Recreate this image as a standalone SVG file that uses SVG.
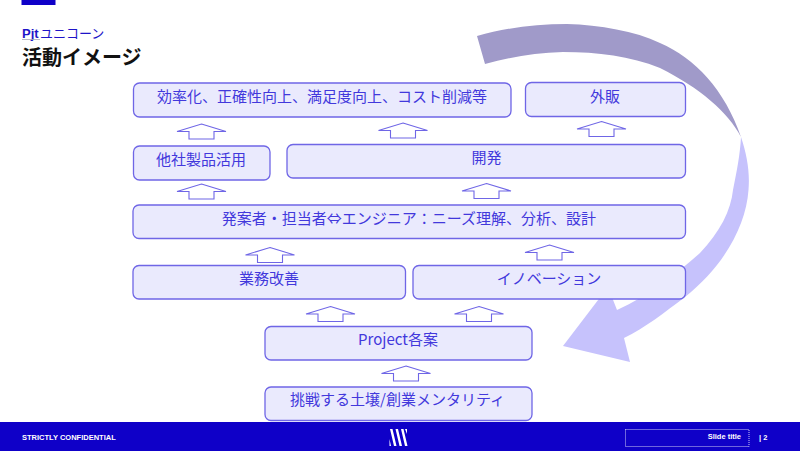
<svg xmlns="http://www.w3.org/2000/svg" width="800" height="451" viewBox="0 0 800 451">
<style>
.b{fill:#eaeafd;stroke:#6f66e6;stroke-width:1.3}
.t{font-family:"Noto Sans CJK JP","Noto Sans",sans-serif;font-size:15px;fill:#4238dc;text-anchor:middle}
.a{fill:#fff;stroke:#6f66e6;stroke-width:1.1}
.f{font-family:"Liberation Sans",sans-serif;font-size:7.500px;font-weight:bold;fill:#fff}
</style>
<defs>
<path id="up" class="a" d="M0 0L24.500 7.500H12.500V15H-12.500V7.500H-24.500Z"/>
</defs>
<rect width="800" height="451" fill="#fff"/>
<rect x="21.500" y="0" width="34" height="5" fill="#0f00c8"/>
<text x="22" y="38" style="font-family:'Liberation Sans',sans-serif;font-size:13px;font-weight:bold" fill="#1e14c8">Pjt</text>
<text x="40" y="38" style="font-family:'Noto Sans CJK JP',sans-serif;font-size:13px" fill="#1e14c8">ユニコーン</text>
<line x1="22" y1="39.500" x2="40" y2="39.500" stroke="#a8a8b8" stroke-width="0.8"/>
<text x="22" y="65" style="font-family:'Noto Sans CJK JP',sans-serif;font-size:20px;font-weight:bold" fill="#111">活動イメージ</text>
<g id="cycle-arrow">
<path fill="#a09ac9" d="M477 36C505 28 535 24 567 24C600 25 635 31 660 43C695 58 725 90 741 137C728 112 700 88 660 68C630 56 598 52 563 52C535 53 510 57 485 64Z"/>
<path fill="#c6c2fc" d="M741 137C747 155 750 172 748.500 190C746 225 725 265 685 297C665 312 645 328 624 338L630 362L563 346L608 287L617 310C650 295 675 275 700 253C720 232 731 210 733 190C737 170 740 155 741 137Z"/>
</g>
<g id="connectors">
<use href="#up" x="201.500" y="124"/>
<use href="#up" x="403" y="123"/>
<use href="#up" x="601.500" y="121.500"/>
<use href="#up" x="201.500" y="184"/>
<use href="#up" x="486.500" y="183.500"/>
<use href="#up" x="270" y="247.500"/>
<use href="#up" x="549.500" y="245"/>
<use href="#up" x="330.500" y="306.500"/>
<use href="#up" x="479" y="306.500"/>
<use href="#up" x="406" y="366"/>
</g>
<g id="n1"><rect class="b" x="133.500" y="83" width="377.500" height="34" rx="6"/><text class="t" x="322" y="102">効率化、正確性向上、満足度向上、コスト削減等</text></g>
<g id="n2"><rect class="b" x="525.500" y="82.500" width="160" height="34" rx="6"/><text class="t" x="605" y="102">外販</text></g>
<g id="n3"><rect class="b" x="133.500" y="146" width="136.500" height="34" rx="6"/><text class="t" x="201" y="165">他社製品活用</text></g>
<g id="n4"><rect class="b" x="287" y="144.500" width="398.500" height="33.500" rx="6"/><text class="t" x="486.500" y="163">開発</text></g>
<g id="n5"><rect class="b" x="133" y="205" width="552.500" height="33.500" rx="6"/><text class="t" x="409" y="224">発案者・担当者⇔エンジニア：ニーズ理解、分析、設計</text></g>
<g id="n6"><rect class="b" x="133" y="265.500" width="272.500" height="33.500" rx="6"/><text class="t" x="269" y="284">業務改善</text></g>
<g id="n7"><rect class="b" x="413" y="265.500" width="272.500" height="33.500" rx="6"/><text class="t" x="549" y="284">イノベーション</text></g>
<g id="n8"><rect class="b" x="265" y="326.500" width="267" height="33.500" rx="6"/><text class="t" x="398" y="345">Project各案</text></g>
<g id="n9"><rect class="b" x="265" y="387" width="267" height="33.500" rx="6"/><text class="t" x="397.500" y="405">挑戦する土壌/創業メンタリティ</text></g>
<g id="footer">
<rect x="0" y="422" width="800" height="29" fill="#0f00c8"/>
<text class="f" x="22" y="440">STRICTLY CONFIDENTIAL</text>
<path fill="#fff" d="M390 429h2.500l4 17h-2.500zM395.500 429h2.500l4 17h-2.500zM401 429h2.500l4 17h-2.500zM389.500 439l1.500 7h-1.500zM405 429h2v5z"/>
<rect x="625.500" y="429.500" width="123.500" height="17" fill="none" stroke="#fff" stroke-width="0.8" stroke-dasharray="1 1"/>
<text class="f" x="741" y="439" text-anchor="end">Slide title</text>
<text class="f" x="759" y="440">| 2</text>
</g>
</svg>
